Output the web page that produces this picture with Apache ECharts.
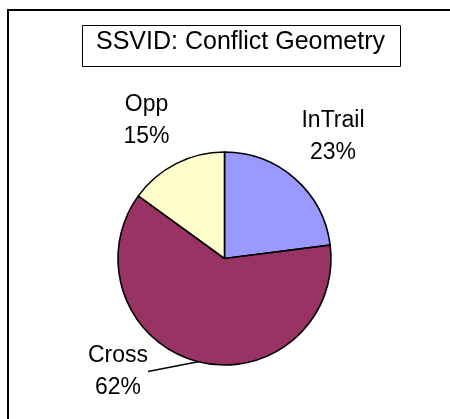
<!DOCTYPE html>
<html>
<head>
<meta charset="utf-8">
<script src="https://cdn.jsdelivr.net/npm/echarts@6/dist/echarts.min.js"></script>
<style>
html,body{margin:0;padding:0;background:#fff;}
#chart{width:450px;height:419px;}
</style>
</head>
<body>
<div id="chart"></div>
<script>
var titleText = 'SSVID: Conflict Geometry';
var categories = ['InTrail', 'Cross', 'Opp'];
var values = [23, 62, 15];
var colors = ['#9999FF', '#993366', '#FFFFCC'];
// label anchor positions (layout only)
var labelPos = [[333, 137], [118, 371.5], [146.5, 121]];
var showLine = [false, true, false];

var chart = echarts.init(document.getElementById('chart'), null, {renderer: 'canvas'});
var font = 'Liberation Sans, Arial, sans-serif';
chart.setOption({
  animation: false,
  backgroundColor: '#ffffff',
  graphic: [
    {type: 'rect', shape: {x: 8, y: 10, width: 500, height: 500},
     style: {fill: 'none', stroke: '#000', lineWidth: 2}},
    {type: 'rect', shape: {x: 82.5, y: 25.5, width: 318, height: 41},
     style: {fill: '#fff', stroke: '#000', lineWidth: 1}},
    {type: 'text', x: 240.5, y: 42,
     style: {text: titleText, font: '25px ' + font, fill: '#000', align: 'center', verticalAlign: 'middle'}}
  ],
  series: [{
    type: 'pie',
    center: [224.5, 258.5],
    radius: [0, 106.5],
    startAngle: 90,
    clockwise: true,
    avoidLabelOverlap: false,
    itemStyle: {borderColor: '#000', borderWidth: 1.6},
    emphasis: {disabled: true},
    label: {
      show: true,
      position: 'outside',
      formatter: function (p) { return p.name + '\n' + Math.round(p.percent) + '%'; },
      fontFamily: font,
      fontSize: 23,
      color: '#000',
      lineHeight: 32,
      align: 'center'
    },
    labelLine: {show: true, length: 0, length2: 0, lineStyle: {color: '#000', width: 1.5}},
    labelLayout: function (params) {
      var p = labelPos[params.dataIndex];
      return {x: p[0], y: p[1], align: 'center', verticalAlign: 'middle'};
    },
    data: categories.map(function (c, i) {
      return {name: c, value: values[i], itemStyle: {color: colors[i]}, labelLine: {show: showLine[i]}};
    })
  }]
});
</script>
</body>
</html>
